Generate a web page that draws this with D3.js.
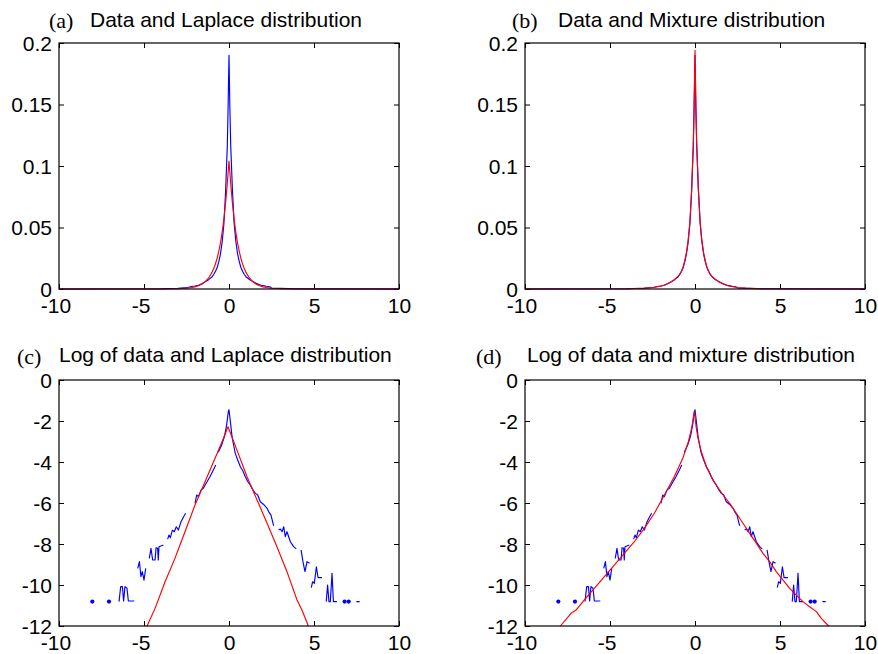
<!DOCTYPE html>
<html><head><meta charset="utf-8">
<script src="https://cdn.jsdelivr.net/npm/d3@7"></script>
<style>body{margin:0;background:#fff}svg{display:block}</style>
</head><body><svg id="chart" width="878" height="654"></svg>
<script>
// ---------- tick values ----------
const xTicks = [-10, -5, 0, 5, 10];
const densityYTicks = [0, 0.05, 0.1, 0.15, 0.2];
const logYTicks = [0, -2, -4, -6, -8, -10, -12];

// ---------- top panels: densities ----------
const densityX = [-10, -4, -3, -2.5, -2.4, -2.2, -2.0, -1.8, -1.6, -1.4, -1.2, -1.0, -0.9, -0.8, -0.7, -0.6, -0.5, -0.4, -0.3, -0.2, -0.1, -0.05,
  0, 0.05, 0.1, 0.2, 0.3, 0.4, 0.5, 0.6, 0.7, 0.8, 0.9, 1.0, 1.2, 1.4, 1.6, 1.8, 2.0, 2.2, 2.4, 2.5, 3, 4, 10];
const dataDensity = [0, 0.0002, 0.0006, 0.0012, 0.0014, 0.002, 0.0024, 0.0031, 0.0043, 0.0058, 0.0076, 0.0098, 0.0118, 0.0142, 0.0172, 0.0222, 0.0288, 0.0385, 0.053, 0.079, 0.116, 0.15,
  0.19, 0.148, 0.117, 0.081, 0.054, 0.039, 0.029, 0.0225, 0.0175, 0.0145, 0.0118, 0.0100, 0.0077, 0.0060, 0.0046, 0.0035, 0.0027, 0.0022, 0.0018, 0.0008, 0.0005, 0.0002, 0];
const laplaceDensity = [0, 0.00003, 0.0002, 0.0006, 0.0008, 0.0012, 0.0017, 0.0026, 0.0039, 0.006, 0.009, 0.0135, 0.0166, 0.0203, 0.025, 0.0307, 0.0377, 0.0463, 0.0569, 0.0699, 0.0858, 0.095,
  0.104, 0.095, 0.0858, 0.0699, 0.0569, 0.0463, 0.0377, 0.0307, 0.025, 0.0203, 0.0166, 0.0135, 0.009, 0.006, 0.0039, 0.0026, 0.0017, 0.0012, 0.0008, 0.0006, 0.0002, 0.00003, 0];
const mixtureDensity = [0, 0.0002, 0.0007, 0.0012, 0.0014, 0.0019, 0.0024, 0.0032, 0.0044, 0.0059, 0.0078, 0.0103, 0.012, 0.0145, 0.018, 0.023, 0.03, 0.04, 0.055, 0.08, 0.118, 0.15,
  0.194, 0.15, 0.118, 0.08, 0.055, 0.04, 0.03, 0.023, 0.018, 0.0145, 0.012, 0.0103, 0.0078, 0.0059, 0.0044, 0.0032, 0.0024, 0.0019, 0.0014, 0.0012, 0.0007, 0.0002, 0];

// ---------- bottom panels: log densities (null = empty bin) ----------
const logDataX = [-8.04, -7.55, -7.06, -6.8,
  -6.47, -6.37, -6.27, -6.2, -6.12, -6.0, -5.92, -5.57, -5.47,
  -5.37, -5.27, -5.18, -5.1, -5.0, -4.9, -4.8,
  -4.69, -4.59, -4.49, -4.35, -4.29, -4.2, -4.16, -4.12, -3.86, -3.74,
  -3.61, -3.53, -3.45, -3.33, -3.22, -3.1, -2.98, -2.82, -2.67, -2.55, -2.3,
  -2.0, -1.9, -1.8, -1.65, -1.51, -1.31, -1.12, -0.92, -0.78, -0.7,
  -0.63, -0.43, -0.27, -0.14, -0.04, 0.0, 0.08, 0.18, 0.27, 0.37, 0.51, 0.67, 0.82, 0.96, 1.1, 1.25, 1.4, 1.55, 1.69, 1.84, 2.04, 2.24, 2.33, 2.47, 2.59, 2.63, 2.78,
  2.92, 3.02, 3.12, 3.22, 3.31, 3.41, 3.61, 3.8, 3.96, 4.1,
  4.24, 4.35, 4.47, 4.59, 4.74, 4.79,
  4.84, 4.92, 5.02, 5.14, 5.24, 5.47, 5.6,
  5.72, 5.8, 5.88, 5.96, 6.06, 6.14, 6.35, 6.5,
  6.8, 6.92, 7.04, 7.3, 7.49, 7.69];
const logData = [-10.81, null, -10.81, null,
  -10.81, -10.08, -10.08, -10.78, -10.08, -10.16, -10.78, -10.78, null,
  -9.19, -8.86, -9.59, -9.35, -9.76, -9.19, null,
  -8.7, -8.21, -8.78, -8.78, -8.18, -8.21, -8.78, -8.13, -8.05, null,
  -7.76, -7.56, -7.69, -7.32, -7.4, -7.16, -7.32, -6.91, -6.67, -6.5, null,
  -6.02, -5.61, -5.69, -5.37, -5.28, -4.99, -4.72, -4.39, -4.15, null,
  -3.53, -3.17, -2.76, -2.2, -1.54, -1.45, -2.03, -2.76, -3.17, -3.58, -3.9, -4.23, -4.44, -4.72, -4.95, -5.12, -5.35, -5.53, -5.61, -5.94, -6.07, -6.26, -6.42, -6.59, -6.99, -7.11, null,
  -7.32, -7.27, -7.4, -7.16, -7.64, -7.4, -7.89, -8.13, -8.24, null,
  -8.29, -8.86, -9.35, -8.86, -8.94, null,
  -10.13, -9.84, -9.92, -9.11, -9.64, -9.64, null,
  -10.81, -10.0, -10.81, -10.81, -9.43, -10.81, -10.81, null,
  -10.81, null, -10.81, null, -10.81, -10.81];

const laplaceLogX = [-4.82, -4.35, -3.76, -3.18, -2.59, -2.0, -1.41, -0.82, -0.33, -0.06, 0.47, 1.06, 1.65, 2.24, 2.82, 3.41, 4.0, 4.29, 4.67];
const laplaceLog = [-12.0, -11.14, -9.84, -8.7, -7.4, -6.1, -4.96, -3.82, -2.85, -2.28, -3.42, -4.72, -5.85, -6.99, -8.13, -9.35, -10.73, -11.22, -12.0];

const mixtureLogX = [-7.92, -7.29, -7.0, -6.51, -5.92, -5.33, -4.75, -4.16, -3.57, -2.98, -2.39, -1.8, -1.22, -0.72, -0.39, -0.2, -0.04,
  0.08, 0.18, 0.37, 0.67, 0.96, 1.25, 1.65, 2.04, 2.43, 2.82, 3.22, 3.61, 4.0, 4.39, 4.78, 5.18, 5.57, 5.96, 6.35, 6.74, 7.14, 7.43, 7.86];
const mixtureLog = [-12.0, -11.38, -11.22, -10.73, -10.16, -9.59, -9.03, -8.46, -7.89, -7.24, -6.5, -5.61, -4.72, -3.82, -3.01, -2.36, -1.54,
  -2.36, -2.85, -3.5, -4.23, -4.72, -5.12, -5.61, -6.02, -6.5, -6.99, -7.48, -7.97, -8.46, -8.86, -9.35, -9.76, -10.16, -10.49, -10.81, -11.06, -11.3, -11.63, -12.0];

// ---------- layout ----------
const BLUE = '#0000ff', RED = '#ff0000';
const panels = [
  {tag: '(a)', title: 'Data and Laplace distribution', left: 59, top: 43, tagX: 49, titleX: 90, titleY: 26.5,
   yDomain: [0, 0.2], yTicks: densityYTicks,
   series: [{x: densityX, y: dataDensity, color: BLUE}, {x: densityX, y: laplaceDensity, color: RED}]},
  {tag: '(b)', title: 'Data and Mixture distribution', left: 525, top: 43, tagX: 512, titleX: 558, titleY: 26.5,
   yDomain: [0, 0.2], yTicks: densityYTicks,
   series: [{x: densityX, y: dataDensity, color: BLUE}, {x: densityX, y: mixtureDensity, color: RED}]},
  {tag: '(c)', title: 'Log of data and Laplace distribution', left: 59, top: 380, tagX: 17, titleX: 59, titleY: 362,
   yDomain: [-12, 0], yTicks: logYTicks,
   series: [{x: logDataX, y: logData, color: BLUE, dots: true}, {x: laplaceLogX, y: laplaceLog, color: RED}]},
  {tag: '(d)', title: 'Log of data and mixture distribution', left: 525, top: 380, tagX: 476, titleX: 527, titleY: 362,
   yDomain: [-12, 0], yTicks: logYTicks,
   series: [{x: logDataX, y: logData, color: BLUE, dots: true}, {x: mixtureLogX, y: mixtureLog, color: RED}]}
];
const W = 340, H = 246;
const FS = 21;
const sans = '"Liberation Sans", Arial, Helvetica, sans-serif';
const serif = '"Liberation Serif", "Times New Roman", serif';

const svg = d3.select('#chart');
svg.append('rect').attr('width', 878).attr('height', 654).attr('fill', '#fff');

panels.forEach((p, i) => {
  const g = svg.append('g').attr('transform', `translate(${p.left},${p.top})`);
  const x = d3.scaleLinear().domain([-10, 10]).range([0, W]);
  const y = d3.scaleLinear().domain(p.yDomain).range([H, 0]);

  const clipId = 'clip' + i;
  g.append('clipPath').attr('id', clipId).append('rect').attr('x', 0).attr('y', -1).attr('width', W).attr('height', H + 2);

  // axes (inward ticks on all four sides)
  const fmt = d => String(d);
  const axB = g.append('g').attr('transform', `translate(0,${H})`)
    .call(d3.axisBottom(x).tickValues(xTicks).tickSize(-5).tickFormat(fmt));
  // digits centred on the tick, minus sign hanging to the left
  axB.selectAll('text').attr('y', 24).attr('dy', null)
    .attr('text-anchor', 'end')
    .attr('x', d => String(Math.abs(d)).length * 0.556 * FS / 2);
  const axT = g.append('g').call(d3.axisTop(x).tickValues(xTicks).tickSize(-5).tickFormat(''));
  const axL = g.append('g').call(d3.axisLeft(y).tickValues(p.yTicks).tickSize(-5).tickPadding(7).tickFormat(fmt));
  axL.selectAll('text').attr('dy', '0.35em');
  const axR = g.append('g').attr('transform', `translate(${W},0)`)
    .call(d3.axisRight(y).tickValues(p.yTicks).tickSize(-5).tickFormat(''));
  [axB, axT, axL, axR].forEach(a => {
    a.select('.domain').remove();
    a.selectAll('line').attr('stroke', '#000').attr('stroke-width', 1);
    a.selectAll('text').attr('font-family', sans).attr('font-size', FS).attr('fill', '#000');
  });

  // data
  const plot = g.append('g').attr('clip-path', `url(#${clipId})`);
  p.series.forEach(s => {
    const pts = s.x.map((xv, k) => [xv, s.y[k]]);
    const line = d3.line().defined(d => d[1] !== null).x(d => x(d[0])).y(d => y(d[1]));
    plot.append('path').datum(pts).attr('d', line)
      .attr('fill', 'none').attr('stroke', s.color).attr('stroke-width', 1.15).attr('stroke-linejoin', 'round');
    if (s.dots) {
      const iso = pts.filter((d, k) => d[1] !== null &&
        (k === 0 || pts[k - 1][1] === null) && (k === pts.length - 1 || pts[k + 1][1] === null));
      plot.selectAll(null).data(iso).enter().append('circle')
        .attr('cx', d => x(d[0])).attr('cy', d => y(d[1])).attr('r', 2.1).attr('fill', s.color);
    }
  });

  // frame
  g.append('rect').attr('width', W).attr('height', H).attr('fill', 'none').attr('stroke', '#000').attr('stroke-width', 1.2);

  // titles
  svg.append('text').attr('x', p.tagX).attr('y', p.titleY + 1.5).attr('font-family', serif).attr('font-size', 22).text(p.tag);
  svg.append('text').attr('x', p.titleX).attr('y', p.titleY).attr('font-family', sans).attr('font-size', FS).text(p.title);
});
</script>
</body></html>
